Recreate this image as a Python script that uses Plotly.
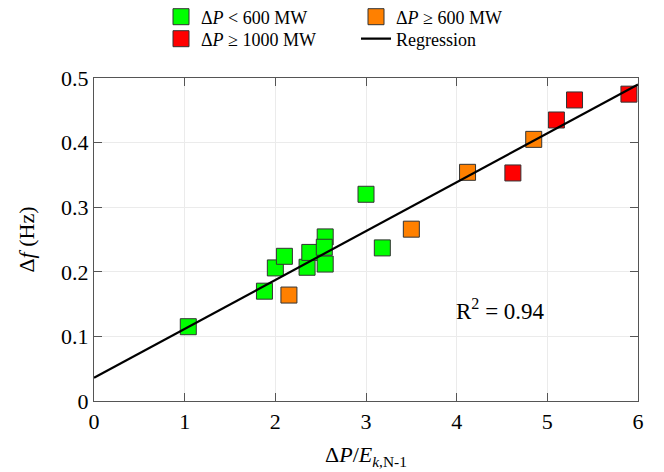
import plotly.graph_objects as go

# Data
green_x = [1.04, 1.88, 2.00, 2.10, 2.35, 2.38, 2.55, 2.54, 2.55, 3.00, 3.18]
green_y = [0.115, 0.170, 0.206, 0.224, 0.207, 0.230, 0.254, 0.238, 0.212, 0.320, 0.237]
orange_x = [2.15, 3.50, 4.12, 4.85]
orange_y = [0.164, 0.266, 0.354, 0.405]
red_x = [4.62, 5.10, 5.30, 5.90]
red_y = [0.353, 0.435, 0.466, 0.475]
reg_x = [0, 6]
reg_y = [0.036, 0.490]
x_ticks = [0, 1, 2, 3, 4, 5, 6]
y_ticks = [0, 0.1, 0.2, 0.3, 0.4, 0.5]
y_ticklabels = ["0", "0.1", "0.2", "0.3", "0.4", "0.5"]

FONT = "Liberation Serif, DejaVu Serif, serif"
W, H = 664, 472
OFF = 8  # page body margin
# desired plot area in screen pixels: x 94..638, y 78..401
L = 94 - OFF
T = 78 - OFF
R = W - (638 - OFF)
B = H - (401 - OFF)
PW, PH = W - L - R, H - T - B

def px_x(p):  # screen px -> paper
    return (p - OFF - L) / PW

def px_y(p):
    return (H - B - (p - OFF)) / PH

marker_line = dict(color="#333333", width=1)

fig = go.Figure()
fig.add_trace(go.Scatter(x=green_x, y=green_y, mode="markers", name="Δ<i>P</i> < 600 MW",
                         marker=dict(symbol="square", size=16, color="#00ff00", line=marker_line),
                         legend="legend"))
fig.add_trace(go.Scatter(x=orange_x, y=orange_y, mode="markers", name="Δ<i>P</i> ≥ 600 MW",
                         marker=dict(symbol="square", size=16, color="#ff8000", line=marker_line),
                         legend="legend2"))
fig.add_trace(go.Scatter(x=red_x, y=red_y, mode="markers", name="Δ<i>P</i> ≥ 1000 MW",
                         marker=dict(symbol="square", size=16, color="#ff0000", line=marker_line),
                         legend="legend3"))
fig.add_trace(go.Scatter(x=reg_x, y=reg_y, mode="lines", name="Regression",
                         line=dict(color="black", width=2.2),
                         legend="legend4"))

leg_common = dict(bgcolor="rgba(0,0,0,0)", borderwidth=0, font=dict(family=FONT, size=18, color="black"),
                  xanchor="left", yanchor="middle", orientation="v", itemsizing="trace")

fig.update_layout(
    width=W, height=H,
    margin=dict(l=L, r=R, t=T, b=B, autoexpand=False),
    paper_bgcolor="white", plot_bgcolor="white",
    font=dict(family=FONT, size=20, color="black"),
    showlegend=True,
    legend=dict(x=px_x(161), y=px_y(17), **leg_common),
    legend2=dict(x=px_x(356), y=px_y(17), **leg_common),
    legend3=dict(x=px_x(161), y=px_y(39), **leg_common),
    legend4=dict(x=px_x(356), y=px_y(39), **leg_common),
    xaxis=dict(range=[0, 6], tickvals=x_ticks, ticks="inside", ticklen=8, tickcolor="#555555",
               showline=True, linecolor="#555555", linewidth=1.2, mirror="ticks",
               showgrid=True, gridcolor="#ebebeb", gridwidth=1, zeroline=False,
               tickfont=dict(family=FONT, size=22),
               title=dict(text="Δ<i>P</i>/<i>E</i><sub><i>k</i>,N-1</sub>", font=dict(family=FONT, size=22), standoff=14)),
    yaxis=dict(range=[0, 0.5], tickvals=y_ticks, ticktext=y_ticklabels, ticks="inside", ticklen=8,
               tickcolor="#555555",
               showline=True, linecolor="#555555", linewidth=1.2, mirror="ticks",
               showgrid=True, gridcolor="#ebebeb", gridwidth=1, zeroline=False,
               tickfont=dict(family=FONT, size=22),
               title=dict(text="Δ<i>f</i> (Hz)", font=dict(family=FONT, size=22), standoff=20)),
    annotations=[dict(x=4.48, y=0.142, xref="x", yref="y", text="R<sup>2</sup> = 0.94",
                      showarrow=False, font=dict(family=FONT, size=23, color="black"))],
)

fig.write_html("out.html")
